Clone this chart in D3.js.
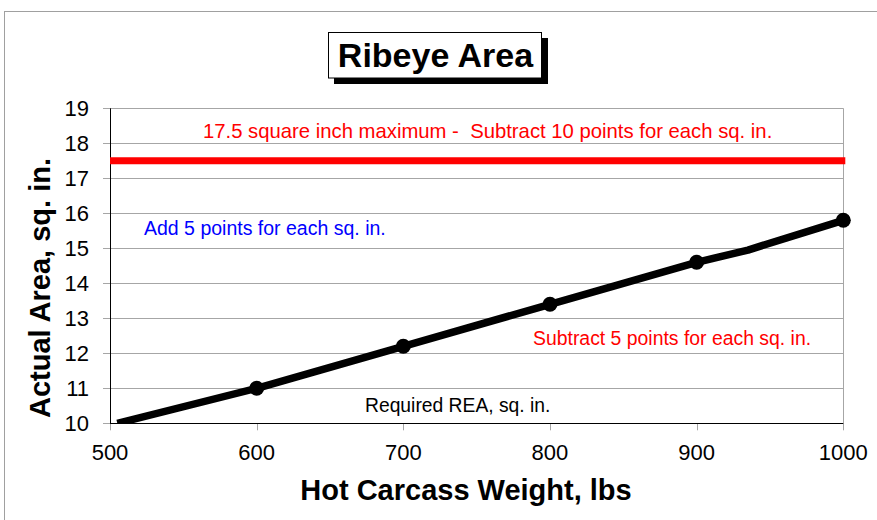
<!DOCTYPE html>
<html><head><meta charset="utf-8">
<script src="https://cdn.jsdelivr.net/npm/d3@7"></script>
<style>
html,body{margin:0;padding:0;background:#fff;}
text{font-family:"Liberation Sans",Arial,sans-serif;}
</style></head>
<body>
<svg id="chart" width="877" height="520"></svg>
<script>
const xTicks = [500, 600, 700, 800, 900, 1000];
const yTicks = [10, 11, 12, 13, 14, 15, 16, 17, 18, 19];
const reqWeights = [505, 600, 700, 800, 900, 935, 1000];
const reqAreas   = [10.0, 11.0, 12.2, 13.4, 14.6, 14.95, 15.8];
const markerWeights = [600, 700, 800, 900, 1000];
const markerAreas   = [11.0, 12.2, 13.4, 14.6, 15.8];
const maxArea = 17.5;
const titleText = "Ribeye Area";
const xTitle = "Hot Carcass Weight, lbs";
const yTitle = "Actual Area, sq. in.";
const notes = [
  {text: "17.5 square inch maximum -  Subtract 10 points for each sq. in.", color: "#ff0000", size: 20.3},
  {text: "Add 5 points for each sq. in.", color: "#0000ff", size: 19.5},
  {text: "Subtract 5 points for each sq. in.", color: "#ff0000", size: 19.4},
  {text: "Required REA, sq. in.", color: "#000000", size: 19.3}
];
const notePos = [[203, 138], [144, 235], [533, 345], [365, 412]];

const svg = d3.select("#chart");
const L = 110, R = 843.3, T = 108.3, B = 423.3;
const x = d3.scaleLinear().domain([500, 1000]).range([L, R]);
const y = d3.scaleLinear().domain([10, 19]).range([B, T]);

// outer frame
svg.append("rect").attr("x", 4.5).attr("y", 11.5).attr("width", 900).attr("height", 600)
  .attr("fill", "none").attr("stroke", "#a0a0a0").attr("stroke-width", 1);

// gridlines
svg.append("g").selectAll("line").data(yTicks).join("line")
  .attr("x1", L - 7).attr("x2", R).attr("y1", d => Math.round(y(d)) + 0.5).attr("y2", d => Math.round(y(d)) + 0.5)
  .attr("stroke", "#a6a6a6").attr("stroke-width", 1);
// x ticks
svg.append("g").selectAll("line").data(xTicks).join("line")
  .attr("x1", d => Math.round(x(d)) + 0.5).attr("x2", d => Math.round(x(d)) + 0.5)
  .attr("y1", B).attr("y2", B + 7)
  .attr("stroke", "#a6a6a6").attr("stroke-width", 1);
// right border
svg.append("line").attr("x1", Math.round(R) + 0.5).attr("x2", Math.round(R) + 0.5)
  .attr("y1", T).attr("y2", B).attr("stroke", "#a6a6a6");
// axes lines
svg.append("line").attr("x1", L + 0.5).attr("x2", L + 0.5).attr("y1", T).attr("y2", B + 0.5).attr("stroke", "#000");
svg.append("line").attr("x1", L).attr("x2", R).attr("y1", Math.round(B) + 0.5).attr("y2", Math.round(B) + 0.5).attr("stroke", "#000");

// tick labels
svg.append("g").selectAll("text").data(yTicks).join("text")
  .attr("x", L - 21).attr("y", d => y(d) + 8).attr("text-anchor", "end")
  .attr("font-size", 22).attr("fill", "#000").text(d => d);
svg.append("g").selectAll("text").data(xTicks).join("text")
  .attr("x", d => x(d)).attr("y", 460).attr("text-anchor", "middle")
  .attr("font-size", 22).attr("fill", "#000").text(d => d);

// clip
svg.append("clipPath").attr("id", "plotclip").append("rect")
  .attr("x", L).attr("y", T - 10).attr("width", R - L + 10).attr("height", B - T + 10);

// max line
svg.append("line").attr("x1", x(500)).attr("x2", x(1000) + 2)
  .attr("y1", y(maxArea)).attr("y2", y(maxArea))
  .attr("stroke", "#ff0000").attr("stroke-width", 7);

// required line
const reqData = reqWeights.map((w, i) => [w, reqAreas[i]]);
svg.append("path").datum(reqData)
  .attr("clip-path", "url(#plotclip)")
  .attr("d", d3.line().x(d => x(d[0])).y(d => y(d[1])))
  .attr("fill", "none").attr("stroke", "#000").attr("stroke-width", 7.5)
  .attr("stroke-linejoin", "round");
svg.append("g").selectAll("circle").data(markerWeights).join("circle")
  .attr("cx", d => x(d)).attr("cy", (d, i) => y(markerAreas[i])).attr("r", 7.5)
  .attr("fill", "#000");

// notes
svg.append("g").selectAll("text").data(notes).join("text")
  .attr("x", (d, i) => notePos[i][0]).attr("y", (d, i) => notePos[i][1])
  .attr("font-size", d => d.size).attr("fill", d => d.color)
  .style("white-space", "pre").text(d => d.text);

// title box
svg.append("rect").attr("x", 334).attr("y", 38).attr("width", 214).attr("height", 46).attr("fill", "#000");
svg.append("rect").attr("x", 328.5).attr("y", 32.5).attr("width", 213).attr("height", 45.5)
  .attr("fill", "#fff").attr("stroke", "#000").attr("stroke-width", 1);
svg.append("text").attr("x", 435.5).attr("y", 67).attr("text-anchor", "middle")
  .attr("font-size", 34).attr("font-weight", "bold").attr("fill", "#000").text(titleText);

// axis titles
svg.append("text").attr("x", 466).attr("y", 500).attr("text-anchor", "middle")
  .attr("font-size", 29).attr("font-weight", "bold").attr("fill", "#000").text(xTitle);
svg.append("text").attr("transform", "translate(50,288) rotate(-90)").attr("text-anchor", "middle")
  .attr("font-size", 29).attr("font-weight", "bold").attr("fill", "#000").text(yTitle);
</script>
</body></html>
